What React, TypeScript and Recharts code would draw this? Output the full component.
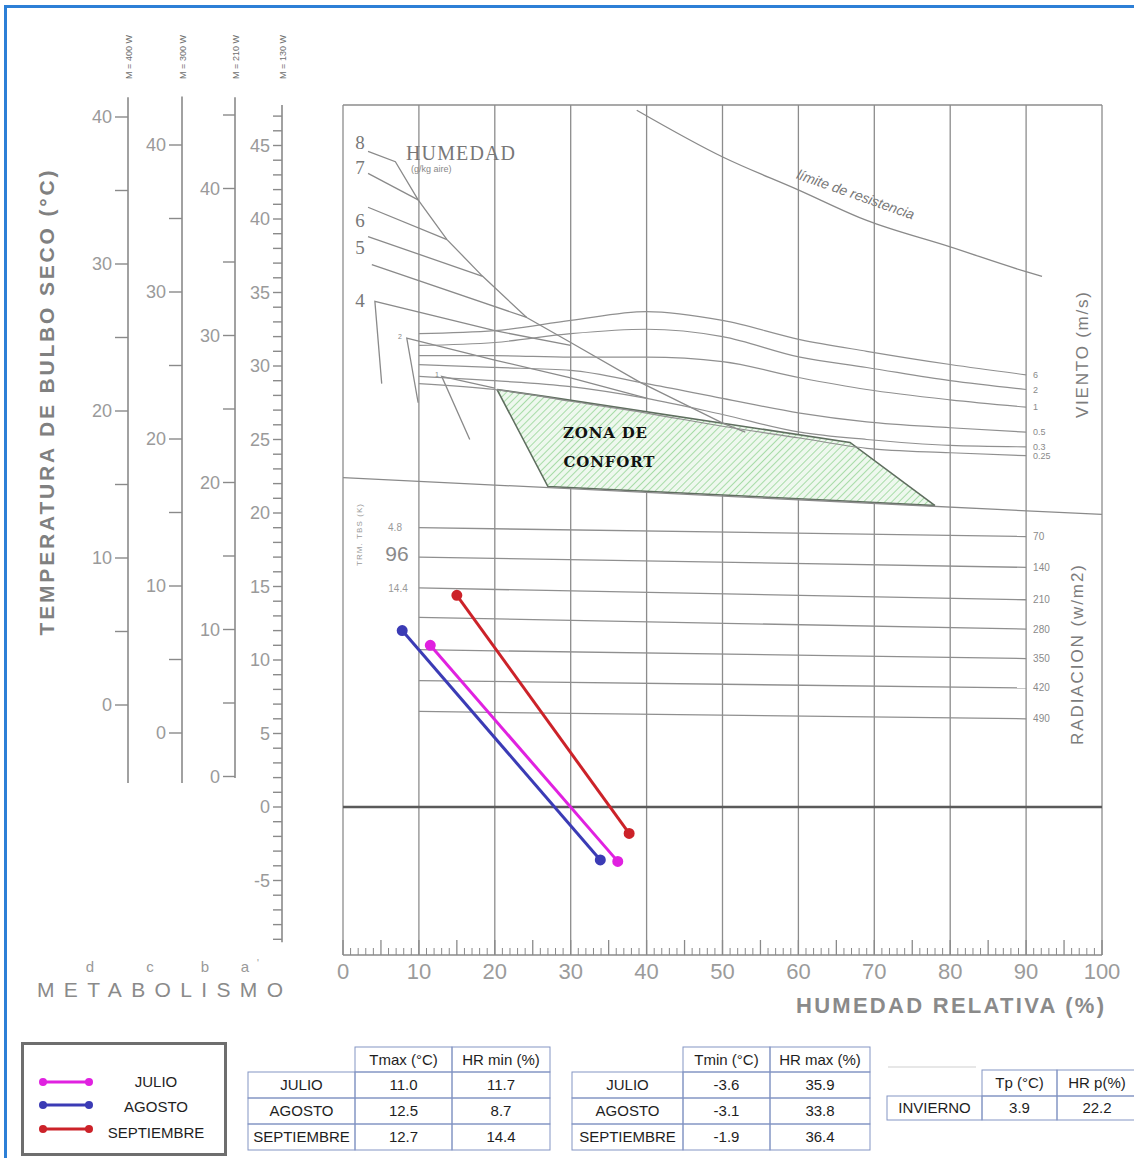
import React from 'react';
import { ComposedChart, Line, Area, XAxis, YAxis, CartesianGrid, ReferenceLine } from 'recharts';

// ---- layout ----
const CHART_W = 1134;
const CHART_H = 1030;
const PLOT_TOP = 105;
const PLOT_BOTTOM = 955;
const HR_AXIS_H = 30;
const HR_LABEL_GAP = 8;
const PX_PER_DEG = 14.7;
const TICK_MARGIN = 3;
const GRID = '#8c8c8c';
const INK = '#8a8a8a';

// the M = 130 W scale is the one the data is plotted against (0 °C sits on the dark line)
const ZERO_130 = 807;
const Y_MIN = (ZERO_130 - PLOT_BOTTOM) / PX_PER_DEG;
const Y_MAX = (ZERO_130 - PLOT_TOP) / PX_PER_DEG;

// ---- data ----
const HR_TICKS = [0, 10, 20, 30, 40, 50, 60, 70, 80, 90, 100];
const HR_RULER = Array.from({ length: 101 }, (_, i) => i);

const MONTHS = ['JULIO', 'AGOSTO', 'SEPTIEMBRE'];
const MONTH_COLORS = ['#e021e0', '#3b3bb5', '#cc2229'];
const TMAX = [11.0, 12.5, 12.7];
const HR_MIN = [11.7, 8.7, 14.4];
const TMIN = [-3.6, -3.1, -1.9];
const HR_MAX = [35.9, 33.8, 36.4];
const TP_INVIERNO = 3.9;
const HRP_INVIERNO = 22.2;

// where each month's segment is drawn on the chart
const SEG_START_HR = [11.5, 7.8, 15.0];
const SEG_START_T = [11.0, 12.0, 14.4];
const SEG_END_HR = [36.2, 33.9, 37.7];
const SEG_END_T = [-3.7, -3.6, -1.8];

// límite de resistencia
const LIMITE_HR = [38.7, 50.1, 59.9, 69.0, 80.0, 90.1, 92.1];
const LIMITE_T = [47.4, 44.2, 42.0, 39.9, 38.1, 36.4, 36.1];

// humidity (g/kg) skeleton lines
const HUM8_HR = [3.3, 6.9, 9.9, 13.7, 18.4, 24.2, 30.0, 39.1, 50.1, 53.0];
const HUM8_T = [44.6, 43.9, 41.3, 38.6, 36.1, 33.3, 31.6, 28.9, 26.1, 25.5];
const HUM7_HR = [3.3, 9.9];
const HUM7_T = [43.1, 41.3];
const HUM6_HR = [3.3, 13.7];
const HUM6_T = [40.8, 38.6];
const HUM5_HR = [3.3, 18.4];
const HUM5_T = [38.8, 36.1];
const HUM45_HR = [3.8, 24.2];
const HUM45_T = [36.9, 33.3];
const HUM4_HR = [5.1, 4.2, 20.0, 30.0];
const HUM4_T = [28.8, 34.4, 32.4, 31.4];
const HUM2_HR = [9.9, 8.4, 20.0, 30.0, 40.1];
const HUM2_T = [27.5, 31.9, 30.4, 29.2, 27.8];
const HUM1_HR = [16.7, 13.0, 20.0];
const HUM1_T = [25.0, 29.3, 28.5];

// wind (m/s)
const WIND_LABELS = ['6', '2', '1', '0.5', '0.3', '0.25'];
const WIND_HR = [10, 20, 30, 40, 50, 60.2, 69, 80, 90];
const WIND_T = [
  [32.2, 32.4, 33.1, 33.7, 33.1, 31.8, 31.0, 30.1, 29.4],
  [31.4, 31.6, 32.2, 32.5, 32.0, 30.6, 29.9, 29.0, 28.4],
  [30.7, 30.7, 30.6, 30.6, 30.3, 29.2, 28.4, 27.7, 27.2],
  [30.1, 29.9, 29.7, 28.8, 27.8, 26.8, 26.2, 25.8, 25.5],
  [29.3, 29.0, 28.6, 27.8, 26.7, 25.5, 25.0, 24.6, 24.5],
  [28.8, 28.4, 27.6, 26.8, 25.9, 25.1, 24.4, 24.1, 23.9],
];

// lower limit of the shade zone
const SOMBRA_HR = [0, 100];
const SOMBRA_T = [22.4, 19.9];

// radiation (w/m2)
const RAD_LABELS = ['70', '140', '210', '280', '350', '420', '490'];
const RAD_HR = [10, 90];
const RAD_T_LEFT = [19.0, 17.0, 14.9, 12.9, 10.7, 8.6, 6.5];
const RAD_T_RIGHT = [18.4, 16.3, 14.1, 12.1, 10.1, 8.1, 6.0];

// comfort zone as [low, high] per HR
const CONFORT_HR = [20.3, 27.0, 66.8, 78.0];
const CONFORT_LOW = [28.4, 21.8, 20.8, 20.5];
const CONFORT_HIGH = [28.4, 27.9, 24.8, 20.5];

// metabolism scales, listed from the plot outwards (ids sort in that order too)
type Scale = {
  id: string;
  name: string;
  width: number;
  zeroY: number;
  ticks: number[];
  labels: number[];
  tickSize: number;
  lineTop: number;
  lineBottom: number;
};
const SCALES: Scale[] = [
  {
    id: 'y1', name: 'M = 130 W', width: 47, zeroY: 807,
    ticks: Array.from({ length: 57 }, (_, i) => 47 - i),
    labels: [45, 40, 35, 30, 25, 20, 15, 10, 5, 0, -5],
    tickSize: 9, lineTop: 47.75, lineBottom: -9.2,
  },
  {
    id: 'y2', name: 'M = 210 W', width: 53, zeroY: 776.5,
    ticks: [45, 40, 35, 30, 25, 20, 15, 10, 5, 0],
    labels: [40, 30, 20, 10, 0],
    tickSize: 12, lineTop: 46.2, lineBottom: -0.1,
  },
  {
    id: 'y3', name: 'M = 300 W', width: 54, zeroY: 733,
    ticks: [40, 35, 30, 25, 20, 15, 10, 5, 0],
    labels: [40, 30, 20, 10, 0],
    tickSize: 13, lineTop: 43.3, lineBottom: -3.4,
  },
  {
    id: 'y4', name: 'M = 400 W', width: 45, zeroY: 705,
    ticks: [40, 35, 30, 25, 20, 15, 10, 5, 0],
    labels: [40, 30, 20, 10, 0],
    tickSize: 13, lineTop: 41.35, lineBottom: -5.3,
  },
];
const SPACER_W = 61;
const MARGIN_LEFT = 343 - SPACER_W - SCALES.reduce((s, a) => s + a.width, 0);

const pts = (hr: number[], t: number[]) => hr.map((h, i) => ({ hr: h, t: t[i] }));

const skeleton = [
  pts(HUM8_HR, HUM8_T), pts(HUM7_HR, HUM7_T), pts(HUM6_HR, HUM6_T), pts(HUM5_HR, HUM5_T),
  pts(HUM45_HR, HUM45_T), pts(HUM4_HR, HUM4_T), pts(HUM2_HR, HUM2_T), pts(HUM1_HR, HUM1_T),
];
const confortData = CONFORT_HR.map((h, i) => ({ hr: h, range: [CONFORT_LOW[i], CONFORT_HIGH[i]] }));

const scaleTick = (s: Scale) => (props: any) => {
  const { x, y, payload } = props;
  const v = payload.value;
  const axisX = x + s.tickSize + TICK_MARGIN;
  return (
    <g>
      {v === s.ticks[0] && (
        <>
          <line
            x1={axisX} x2={axisX}
            y1={y - (s.lineTop - v) * PX_PER_DEG}
            y2={y + (v - s.lineBottom) * PX_PER_DEG}
            stroke={INK} strokeWidth={1.6}
          />
          <text transform={`translate(${axisX + 1},57) rotate(-90)`} textAnchor="middle" dy="0.35em" fontSize={9} fill="#6e6e6e">
            {s.name}
          </text>
        </>
      )}
      {s.labels.includes(v) && (
        <text x={x} y={y} dy="0.35em" textAnchor="end" fontSize={18} fill="#9a9a9a">{v}</text>
      )}
    </g>
  );
};

// ruler along the HR axis: short ticks every 1 %, longer every 5 %, numbers every 10 %
const rulerTick = (props: any) => {
  const { x, y, payload } = props;
  const v = payload.value;
  const axisY = y - HR_LABEL_GAP;
  const len = v % 5 === 0 ? 15 : 7;
  return (
    <g>
      <line x1={x} x2={x} y1={axisY} y2={axisY - len} stroke={INK} strokeWidth={v % 5 === 0 ? 1.3 : 1} />
      {HR_TICKS.includes(v) && (
        <text x={x} y={y} dy="0.71em" textAnchor="middle" fontSize={22} fill="#9b9b9b">{v}</text>
      )}
    </g>
  );
};

const endLabel = (text: string, last: number, size: number) => (p: any) =>
  p.index === last ? (
    <text key={`l${text}`} x={p.cx + 7} y={p.cy} dy="0.35em" fontSize={size} fill="#8a8a8a">{text}</text>
  ) : (
    <g key={`d${text}${p.index}`} />
  );

function Tabla({ x, y, colW, rowH, header, rows }: { x: number; y: number; colW: number[]; rowH: number[]; header: string[]; rows: string[][] }) {
  const all = [header, ...rows];
  const cells: React.ReactNode[] = [];
  let cy = y;
  all.forEach((row, r) => {
    let cx = x;
    row.forEach((txt, c) => {
      const w = colW[c];
      const h = rowH[r];
      if (!(r === 0 && c === 0)) {
        cells.push(<rect key={`r${r}${c}`} x={cx} y={cy} width={w} height={h} fill="none" stroke="#8495c4" strokeWidth={1} />);
      }
      cells.push(
        <text key={`t${r}${c}`} x={cx + w / 2} y={cy + h / 2} dy="0.35em" textAnchor="middle" fontSize={15} fill="#1e1e1e">{txt}</text>
      );
      cx += w;
    });
    cy += rowH[r];
  });
  return <g>{cells}</g>;
}

export default function App() {
  const fontFamily = '"Liberation Sans", Arial, sans-serif';
  return (
    <div style={{ position: 'absolute', left: 0, top: 0, width: 1134, height: 1158, background: '#fff', overflow: 'hidden', fontFamily }}>
      <div style={{ position: 'absolute', left: 4, top: 5, width: 1300, height: 1300, borderLeft: '3px solid #2d7fd6', borderTop: '3px solid #2d7fd6' }} />

      <div style={{ position: 'absolute', left: 0, top: 0 }}>
        <ComposedChart width={CHART_W} height={CHART_H}
          margin={{ top: PLOT_TOP, right: CHART_W - 1102, bottom: CHART_H - PLOT_BOTTOM - HR_AXIS_H, left: MARGIN_LEFT }}>
          <defs>
            <pattern id="hatch" width="5" height="5" patternUnits="userSpaceOnUse" patternTransform="rotate(45)">
              <rect width="5" height="5" fill="#eef8ee" />
              <line x1="0" y1="0" x2="0" y2="5" stroke="#a8dca8" strokeWidth="2" />
            </pattern>
          </defs>

          <XAxis xAxisId="hr" dataKey="hr" type="number" domain={[0, 100]} ticks={HR_RULER} interval={0} height={HR_AXIS_H}
            allowDataOverflow axisLine={{ stroke: INK, strokeWidth: 1.4 }} tickLine={false} tickSize={0} tickMargin={HR_LABEL_GAP}
            tick={rulerTick} />

          <YAxis yAxisId="y0" type="number" domain={[Y_MIN, Y_MAX]} width={SPACER_W} allowDataOverflow
            tick={false} axisLine={false} tickLine={false} />
          {SCALES.map((s) => (
            <YAxis key={s.id} yAxisId={s.id} type="number" width={s.width} allowDataOverflow
              domain={[(s.zeroY - PLOT_BOTTOM) / PX_PER_DEG, (s.zeroY - PLOT_TOP) / PX_PER_DEG]}
              ticks={s.ticks} interval={0} axisLine={false} tickSize={s.tickSize} tickMargin={TICK_MARGIN}
              tickLine={{ stroke: INK, strokeWidth: 1.4 }} tick={scaleTick(s)} />
          ))}

          <CartesianGrid xAxisId="hr" yAxisId="y0" horizontal={false} verticalValues={HR_TICKS} stroke={GRID} strokeWidth={1.3} />
          <ReferenceLine xAxisId="hr" yAxisId="y0" y={Y_MAX} stroke={GRID} strokeWidth={1.3} />
          <ReferenceLine xAxisId="hr" yAxisId="y0" y={0} stroke="#5a5a5a" strokeWidth={2.6} />

          <Area xAxisId="hr" yAxisId="y0" data={confortData} dataKey="range" type="linear"
            fill="url(#hatch)" fillOpacity={1} stroke="#5f6e5f" strokeWidth={1.6} isAnimationActive={false} />

          <Line xAxisId="hr" yAxisId="y0" data={pts(LIMITE_HR, LIMITE_T)} dataKey="t" type="monotone"
            stroke={INK} strokeWidth={1.3} dot={false} isAnimationActive={false} />
          {skeleton.map((d, i) => (
            <Line key={`h${i}`} xAxisId="hr" yAxisId="y0" data={d} dataKey="t" type="linear"
              stroke={INK} strokeWidth={1.3} dot={false} isAnimationActive={false} />
          ))}
          {WIND_T.map((t, i) => (
            <Line key={`w${i}`} xAxisId="hr" yAxisId="y0" data={pts(WIND_HR, t)} dataKey="t" type="monotone"
              stroke="#909090" strokeWidth={1.2} dot={endLabel(WIND_LABELS[i], WIND_HR.length - 1, 9)} isAnimationActive={false} />
          ))}
          <Line xAxisId="hr" yAxisId="y0" data={pts(SOMBRA_HR, SOMBRA_T)} dataKey="t" type="linear"
            stroke={INK} strokeWidth={1.3} dot={false} isAnimationActive={false} />
          {RAD_LABELS.map((lab, i) => (
            <Line key={`r${i}`} xAxisId="hr" yAxisId="y0" data={pts(RAD_HR, [RAD_T_LEFT[i], RAD_T_RIGHT[i]])} dataKey="t" type="linear"
              stroke="#8f8f8f" strokeWidth={1.3} dot={endLabel(lab, 1, 10)} isAnimationActive={false} />
          ))}

          {MONTHS.map((m, i) => (
            <Line key={m} xAxisId="hr" yAxisId="y0" name={m}
              data={pts([SEG_START_HR[i], SEG_END_HR[i]], [SEG_START_T[i], SEG_END_T[i]])} dataKey="t" type="linear"
              stroke={MONTH_COLORS[i]} strokeWidth={3} dot={{ r: 4, fill: MONTH_COLORS[i], stroke: MONTH_COLORS[i] }}
              isAnimationActive={false} />
          ))}
        </ComposedChart>
      </div>

      <svg width={1134} height={1158} style={{ position: 'absolute', left: 0, top: 0, pointerEvents: 'none' }} fontFamily={fontFamily}>
        {/* left side */}
        <text transform="translate(47,403) rotate(-90)" textAnchor="middle" dy="0.35em" fontSize={21} fontWeight="bold" fill="#808080" textLength={465}>
          TEMPERATURA DE BULBO SECO (°C)
        </text>
        <text x={37} y={997} fontSize={21} fill="#8a8a8a" textLength={246}>METABOLISMO</text>
        <text x={90} y={972} textAnchor="middle" fontSize={15} fill="#999">d</text>
        <text x={150} y={972} textAnchor="middle" fontSize={15} fill="#999">c</text>
        <text x={205} y={972} textAnchor="middle" fontSize={15} fill="#999">b</text>
        <text x={245} y={972} textAnchor="middle" fontSize={15} fill="#999">a</text>
        <text x={258} y={967} textAnchor="middle" fontSize={10} fill="#999">'</text>

        {/* humidity labels */}
        <g fontFamily='"Liberation Serif", serif' fill="#777" fontSize={19} textAnchor="middle">
          <text x={360} y={142} dy="0.35em">8</text>
          <text x={360} y={167} dy="0.35em">7</text>
          <text x={360} y={220} dy="0.35em">6</text>
          <text x={360} y={247} dy="0.35em">5</text>
          <text x={360} y={300} dy="0.35em">4</text>
        </g>
        <text x={406} y={160} fontFamily='"Liberation Serif", serif' fontSize={20} fill="#777" textLength={109}>HUMEDAD</text>
        <text x={411} y={172} fontSize={9} fill="#888">(g/kg aire)</text>
        <text x={400} y={337} textAnchor="middle" dy="0.35em" fontSize={7} fill="#888">2</text>
        <text x={437} y={375} textAnchor="middle" dy="0.35em" fontSize={7} fill="#888">1</text>

        <text transform="translate(854,199) rotate(19.5)" textAnchor="middle" fontStyle="italic" fontSize={14} fill="#777">límite de resistencia</text>

        <text transform="translate(1082,355) rotate(-90)" textAnchor="middle" dy="0.35em" fontSize={17} fill="#7c7c7c" textLength={126}>VIENTO (m/s)</text>
        <text transform="translate(1077,655) rotate(-90)" textAnchor="middle" dy="0.35em" fontSize={17} fill="#7c7c7c" textLength={180}>RADIACION (w/m2)</text>

        <text transform="translate(359,535) rotate(-90)" textAnchor="middle" dy="0.35em" fontSize={8} fill="#999" textLength={62}>TRM. TBS (K)</text>
        <text x={395} y={527} textAnchor="middle" dy="0.35em" fontSize={10} fill="#999">4.8</text>
        <text x={397} y={554} textAnchor="middle" dy="0.35em" fontSize={21} fill="#8a8a8a">96</text>
        <text x={398} y={588} textAnchor="middle" dy="0.35em" fontSize={10} fill="#999">14.4</text>

        <g fontFamily='"DejaVu Serif", serif' fontWeight="bold" fontSize={15} fill="#111" textAnchor="middle">
          <text x={605} y={433} dy="0.35em" textLength={84}>ZONA DE</text>
          <text x={609} y={462} dy="0.35em" textLength={91}>CONFORT</text>
        </g>

        <text x={1104} y={1013} textAnchor="end" fontSize={22} fontWeight="bold" fill="#8a8a8a" textLength={308}>HUMEDAD RELATIVA (%)</text>

        {/* legend */}
        <rect x={22.5} y={1043.5} width={203} height={111} fill="none" stroke="#6e6e6e" strokeWidth={3} />
        {MONTHS.map((m, i) => {
          const ly = [1082, 1105, 1129][i];
          const ty = [1082, 1107, 1133][i];
          return (
            <g key={m}>
              <line x1={43} x2={89} y1={ly} y2={ly} stroke={MONTH_COLORS[i]} strokeWidth={3} />
              <circle cx={43} cy={ly} r={4} fill={MONTH_COLORS[i]} />
              <circle cx={89} cy={ly} r={4} fill={MONTH_COLORS[i]} />
              <text x={156} y={ty} dy="0.35em" textAnchor="middle" fontSize={15} fill="#1e1e1e">{m}</text>
            </g>
          );
        })}

        {/* tables */}
        <Tabla x={248} y={1047} colW={[107, 97, 98]} rowH={[25, 26, 26, 26]}
          header={['', 'Tmax (°C)', 'HR min (%)']}
          rows={MONTHS.map((m, i) => [m, TMAX[i].toFixed(1), HR_MIN[i].toFixed(1)])} />
        <Tabla x={572} y={1047} colW={[111, 87, 100]} rowH={[25, 26, 26, 26]}
          header={['', 'Tmin (°C)', 'HR max (%)']}
          rows={MONTHS.map((m, i) => [m, TMIN[i].toFixed(1), HR_MAX[i].toFixed(1)])} />
        <line x1={888} x2={976} y1={1067} y2={1067} stroke="#cfcfcf" strokeWidth={1} />
        <Tabla x={887} y={1070} colW={[95, 75, 80]} rowH={[26, 24]}
          header={['', 'Tp (°C)', 'HR p(%)']}
          rows={[['INVIERNO', TP_INVIERNO.toFixed(1), HRP_INVIERNO.toFixed(1)]]} />
      </svg>
    </div>
  );
}
